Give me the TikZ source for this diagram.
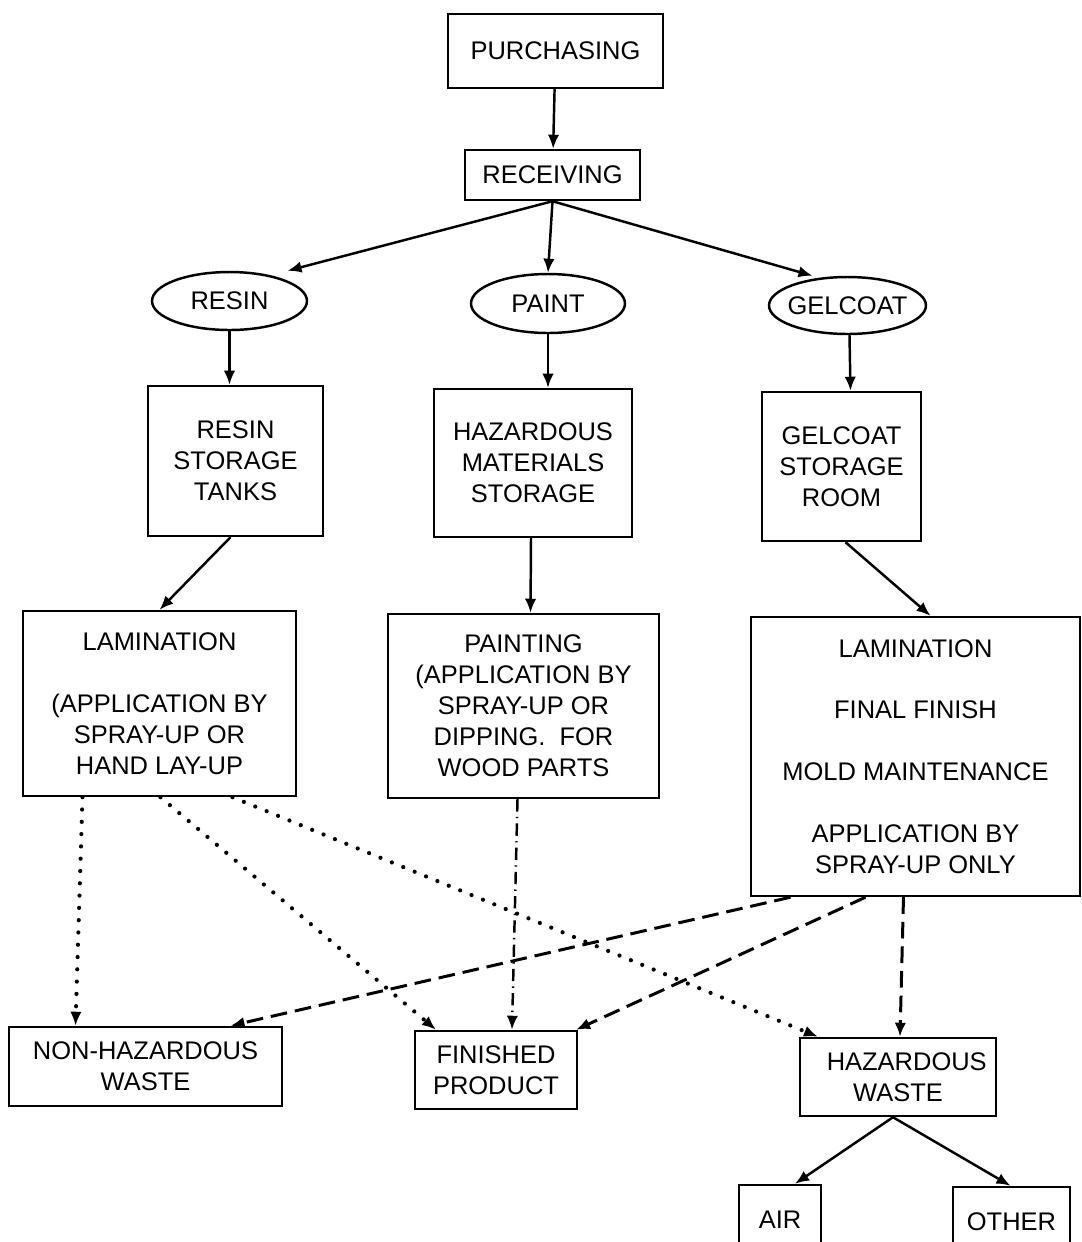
\documentclass[tikz,border=0pt]{standalone}
\usepackage{fontspec}
\setmainfont{Liberation Sans}
\usetikzlibrary{shapes.geometric,arrows.meta,calc}
\begin{document}
\begin{tikzpicture}[x=0.02cm,y=-0.02cm,
  txt/.style={font=\fontsize{14.5}{17.6}\selectfont},
  box/.style={txt,draw,line width=1.4pt,inner sep=0pt,align=center},
  oval/.style={txt,ellipse,draw,line width=1.4pt,inner sep=0pt},
  arr/.style={line width=1.4pt,-{Latex[length=8pt,width=6.5pt]}},
  dotarr/.style={arr,line width=2.4pt,line cap=round,dash pattern=on 0pt off 7pt},
  dasharr/.style={arr,line width=1.7pt,dash pattern=on 9.5pt off 4.5pt},
  dasharrdot/.style={arr,line width=1.4pt,dash pattern=on 7pt off 3pt on 0.8pt off 3pt}
]
\useasboundingbox (0,0) rectangle (1082,1242);
\clip (0,0) rectangle (1082,1242);
\fill[white] (0,0) rectangle (1082,1242);

% top
\node[box,minimum width=4.3cm,minimum height=1.48cm] (purch) at (555.5,51) {PURCHASING};
\node[box,minimum width=3.5cm,minimum height=1.0cm] (recv) at (552.5,175) {RECEIVING};

% ovals
\node[oval,minimum width=3.1cm,minimum height=1.16cm] (resin) at (229.5,301) {RESIN};
\node[oval,minimum width=3.08cm,minimum height=1.18cm] (paint) at (548,303.5) {PAINT};
\node[oval,inner xsep=-3.5pt,minimum width=3.14cm,minimum height=1.14cm] (gel) at (847.5,305.5) {GELCOAT};

% storage
\node[box,minimum width=3.5cm,minimum height=3.0cm] (rstore) at (235.5,461) {RESIN\\STORAGE\\TANKS};
\node[box,minimum width=3.96cm,minimum height=2.96cm] (hstore) at (533,463) {HAZARDOUS\\MATERIALS\\STORAGE};
\node[box,minimum width=3.18cm,minimum height=2.98cm] (gstore) at (841.5,466.5) {GELCOAT\\STORAGE\\ROOM};

% processes
\node[box,minimum width=5.46cm,minimum height=3.7cm] (lamL) at (159.5,703.5)
  {LAMINATION\\[17.6pt](APPLICATION BY\\SPRAY-UP OR\\HAND LAY-UP};
\node[box,minimum width=5.42cm,minimum height=3.68cm] (paintg) at (523.5,706)
  {PAINTING\\(APPLICATION BY\\SPRAY-UP OR\\DIPPING.\ \ FOR\\WOOD PARTS};
\node[box,minimum width=6.58cm,minimum height=5.58cm] (lamR) at (915.5,756.5)
  {LAMINATION\\[17.6pt]FINAL FINISH\\[17.6pt]MOLD MAINTENANCE\\[17.6pt]APPLICATION BY\\SPRAY-UP ONLY};

% outputs
\node[box,minimum width=5.46cm,minimum height=1.58cm] (nonhaz) at (145.5,1066.5) {NON-HAZARDOUS\\WASTE};
\node[box,minimum width=3.24cm,minimum height=1.56cm] (fin) at (496,1070) {FINISHED\\PRODUCT};
\node[box,minimum width=3.92cm,minimum height=1.56cm] (haz) at (898,1077) {\hspace*{0.35cm}HAZARDOUS\\WASTE};

\node[box,minimum width=1.64cm,minimum height=1.4cm] (air) at (780,1220) {AIR};
\node[box,minimum width=2.34cm,minimum height=1.4cm] (other) at (1011.5,1222) {OTHER};

% solid arrows
\draw[arr] (purch) -- (recv);
\draw[arr] (recv.south) -- ($(resin.north)+(58,0)$);
\draw[arr] (recv.south) -- (paint.north);
\draw[arr] (recv.south) -- ($(gel.north)+(-35,0)$);

\draw[arr] (resin.south) -- (rstore.north -| resin.south);
\draw[arr] (paint.south) -- (hstore.north -| paint.south);
\draw[arr] ($(gel.south)+(2,0)$) -- ($(gstore.north)+(9,0)$);

\draw[arr] ($(rstore.south)+(-5,0)$) -- (lamL.north);
\draw[arr] ($(hstore.south)+(-2,0)$) -- ($(paintg.north)+(7,0)$);
\draw[arr] ($(gstore.south)+(4,0)$) -- ($(lamR.north)+(15,0)$);

% dotted from left lamination
\draw[dotarr] ($(lamL.south)+(-77,0)$) -- ($(nonhaz.north)+(-70,0)$);
\draw[dotarr] ($(lamL.south)+(1,0)$) -- ($(fin.north)+(-60,0)$);
\draw[dotarr] ($(lamL.south)+(73,0)$) -- ($(haz.north)+(-80,0)$);

% dash-dot from painting
\draw[dasharrdot] ($(paintg.south)+(-6,0)$) -- ($(fin.north)+(16,0)$);

% dashed from right lamination
\draw[dasharr] ($(lamR.south)+(-125,0)$) -- ($(nonhaz.north)+(85,0)$);
\draw[dasharr] ($(lamR.south)+(-50,0)$) -- ($(fin.north)+(80,0)$);
\draw[dasharr] ($(lamR.south)+(-12,0)$) -- ($(haz.north)+(2,0)$);

% hazardous waste split
\draw[arr] ($(haz.south)+(-5,0)$) -- ($(air.north)+(15,0)$);
\draw[arr] ($(haz.south)+(-5,0)$) -- ($(other.north)+(-1,0)$);
\end{tikzpicture}
\end{document}
